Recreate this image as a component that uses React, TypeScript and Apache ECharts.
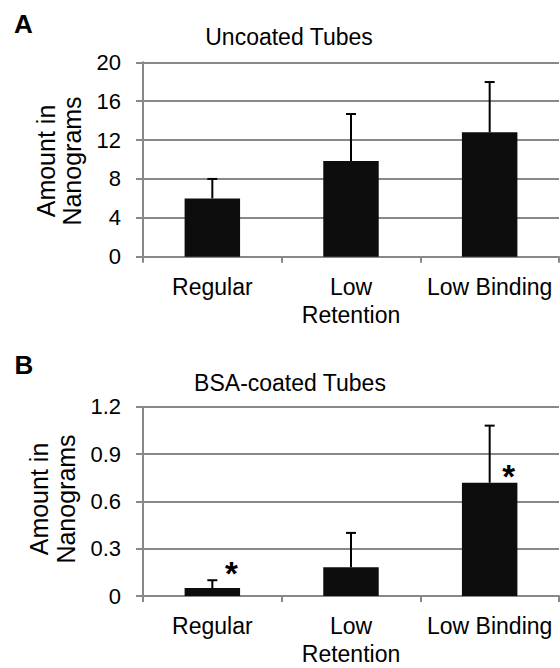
import React, { useEffect, useRef } from "react";
import * as echarts from "echarts";

const categories = ["Regular", "Low\nRetention", "Low Binding"];

const uncoatedTitle = "Uncoated Tubes";
const uncoatedMeans = [6.0, 9.85, 12.8];
const uncoatedErrors = [2.0, 4.83, 5.17];
const uncoatedTicks = [0, 4, 8, 12, 16, 20];

const bsaTitle = "BSA-coated Tubes";
const bsaMeans = [0.05, 0.183, 0.718];
const bsaErrors = [0.05, 0.217, 0.362];
const bsaTicks = [0, 0.3, 0.6, 0.9, 1.2];
const bsaStars = ["*", "", "*"];
const bsaStarLevels = [0.14, null, 0.76];

const yName = "Amount in\nNanograms";
const FONT = "'Liberation Sans', Arial, Helvetica, sans-serif";
const GRID_COLOR = "#888888";

function errorBarRender(params: any, api: any) {
  const i = api.value(0);
  const base = api.coord([i, api.value(1)]);
  const top = api.coord([i, api.value(2)]);
  const st = { stroke: "#000", lineWidth: 2 };
  return {
    type: "group",
    children: [
      { type: "line", shape: { x1: base[0], y1: base[1], x2: top[0], y2: top[1] }, style: st },
      { type: "line", shape: { x1: top[0] - 5, y1: top[1], x2: top[0] + 5, y2: top[1] }, style: st },
    ],
  };
}

function starRender(params: any, api: any) {
  const i = api.value(0);
  const p = api.coord([i, api.value(1)]);
  return {
    type: "text",
    x: p[0] + 19,
    y: p[1],
    style: {
      text: bsaStars[i],
      fill: "#000",
      fontSize: 33,
      fontWeight: "bold",
      fontFamily: FONT,
      align: "center",
      verticalAlign: "middle",
    },
  };
}

export default function App() {
  const ref = useRef<HTMLDivElement>(null);
  useEffect(() => {
    if (!ref.current) return;
    const chart = echarts.init(ref.current, null, { renderer: "svg" });

    const grids = [
      { left: 143, top: 62.3, width: 416, height: 194.4 },
      { left: 143, top: 406.7, width: 416, height: 190 },
    ];

    const xAxisBase = (gridIndex: number) => ({
      type: "category",
      gridIndex,
      data: categories,
      axisLine: { show: true, lineStyle: { color: GRID_COLOR, width: 2 } },
      axisTick: { show: true, length: 6, lineStyle: { color: GRID_COLOR, width: 2 } },
      axisLabel: {
        interval: 0,
        margin: 16,
        color: "#000",
        fontSize: 23,
        lineHeight: 28,
        fontFamily: FONT,
      },
      splitLine: { show: false },
    });

    const yAxisBase = (gridIndex: number, ticks: number[]) => ({
      type: "value",
      gridIndex,
      min: ticks[0],
      max: ticks[ticks.length - 1],
      interval: ticks[1] - ticks[0],
      axisLine: { show: true, lineStyle: { color: GRID_COLOR, width: 2 } },
      axisTick: { show: true, length: 7, lineStyle: { color: GRID_COLOR, width: 2 } },
      axisLabel: { margin: 22, color: "#000", fontSize: 22, fontFamily: FONT },
      splitLine: { show: true, lineStyle: { color: GRID_COLOR, width: 2 } },
    });

    const option: any = {
      animation: false,
      backgroundColor: "#fff",
      grid: grids,
      xAxis: [xAxisBase(0), xAxisBase(1)],
      yAxis: [yAxisBase(0, uncoatedTicks), yAxisBase(1, bsaTicks)],
      series: [
        {
          type: "bar",
          xAxisIndex: 0,
          yAxisIndex: 0,
          data: uncoatedMeans,
          barWidth: "40%",
          itemStyle: { color: "#0d0d0d" },
        },
        {
          type: "custom",
          xAxisIndex: 0,
          yAxisIndex: 0,
          renderItem: errorBarRender,
          data: uncoatedMeans.map((m, i) => [i, m, m + uncoatedErrors[i]]),
          encode: { x: 0, y: [1, 2] },
          z: 5,
        },
        {
          type: "bar",
          xAxisIndex: 1,
          yAxisIndex: 1,
          data: bsaMeans,
          barWidth: "40%",
          itemStyle: { color: "#0d0d0d" },
        },
        {
          type: "custom",
          xAxisIndex: 1,
          yAxisIndex: 1,
          renderItem: errorBarRender,
          data: bsaMeans.map((m, i) => [i, m, m + bsaErrors[i]]),
          encode: { x: 0, y: [1, 2] },
          z: 5,
        },
        {
          type: "custom",
          xAxisIndex: 1,
          yAxisIndex: 1,
          renderItem: starRender,
          data: bsaStarLevels
            .map((v, i) => (v === null ? null : [i, v]))
            .filter((d) => d !== null),
          encode: { x: 0, y: 1 },
          z: 6,
        },
      ],
      graphic: [
        {
          type: "text",
          x: 23.3,
          y: 23.5,
          style: { text: "A", fill: "#000", fontSize: 26, fontWeight: "bold", fontFamily: FONT, align: "center", verticalAlign: "middle" },
        },
        {
          type: "text",
          x: 24,
          y: 365,
          style: { text: "B", fill: "#000", fontSize: 26, fontWeight: "bold", fontFamily: FONT, align: "center", verticalAlign: "middle" },
        },
        {
          type: "text",
          x: 289,
          y: 37,
          style: { text: uncoatedTitle, fill: "#000", fontSize: 23, fontFamily: FONT, align: "center", verticalAlign: "middle" },
        },
        {
          type: "text",
          x: 290,
          y: 382.5,
          style: { text: bsaTitle, fill: "#000", fontSize: 23, fontFamily: FONT, align: "center", verticalAlign: "middle" },
        },
        {
          type: "text",
          x: 59,
          y: 161,
          rotation: Math.PI / 2,
          style: { text: yName, fill: "#000", fontSize: 25, lineHeight: 26.5, fontFamily: FONT, align: "center", verticalAlign: "middle" },
        },
        {
          type: "text",
          x: 52,
          y: 499,
          rotation: Math.PI / 2,
          style: { text: yName, fill: "#000", fontSize: 25, lineHeight: 27, fontFamily: FONT, align: "center", verticalAlign: "middle" },
        },
      ],
    };

    chart.setOption(option);
    return () => chart.dispose();
  }, []);

  return (
    <div
      ref={ref}
      style={{ position: "fixed", left: 0, top: 0, width: 560, height: 668, background: "#fff" }}
    />
  );
}
